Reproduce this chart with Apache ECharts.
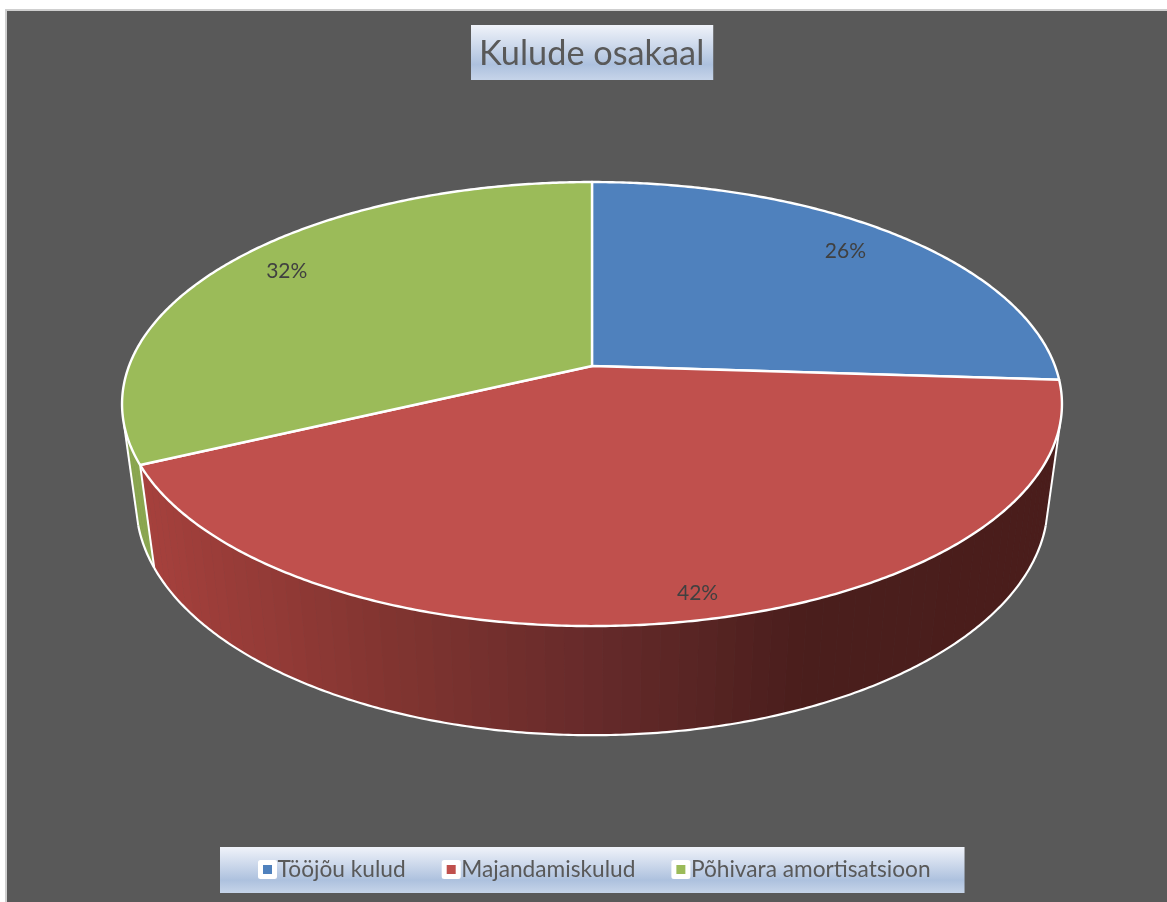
<!DOCTYPE html>
<html><head><meta charset="utf-8">
<style>html,body{margin:0;padding:0;background:#fff}#c{width:1167px;height:902px}</style>
<script src="https://cdn.jsdelivr.net/npm/echarts@6/dist/echarts.min.js"></script>
</head><body><div id="c"></div>
<script>
const titleText = 'Kulude osakaal';
const categories = ['Tööjõu kulud', 'Majandamiskulud', 'Põhivara amortisatsioon'];
const shares = [26, 42, 32];
const sliceColors = ['#4f81bd', '#c0504d', '#9bbb59'];

// perspective view of the disc
const view = {cx: 592, cy: 366, A: 463, B: 215.5, p: 0.1714, q: 0.03, h: 101.5, sideFrom: 105, sideTo: 255};
const labelRadius = [0.84, 0.914, 0.857];
const labelTurn = [-1, -1.4, 1.3];
const total = shares.reduce((a, b) => a + b, 0);

function topPt(deg, r) {
  const t = deg * Math.PI / 180, s = Math.sin(t), c = Math.cos(t), w = 1 + view.p * r * c;
  return [view.cx + view.A * r * s / w, view.cy - view.B * r * c / w];
}
function botPt(deg) {
  const t = deg * Math.PI / 180, s = Math.sin(t), c = Math.cos(t), w = 1 + view.p * c + view.q;
  return [view.cx + view.A * s / w, view.cy + (view.h - view.B * c) / w];
}
const sideStops = [[120, [170, 66, 62]], [400, [128, 52, 48]], [600, [101, 42, 42]], [800, [74, 30, 28]], [1070, [74, 29, 27]]];
function sideColor(x, idx) {
  if (idx === 2) return '#8ba750';
  for (let i = 1; i < sideStops.length; i++) {
    if (x <= sideStops[i][0]) {
      const [x0, c0] = sideStops[i - 1], [x1, c1] = sideStops[i], f = (x - x0) / (x1 - x0);
      return 'rgb(' + c0.map((v, k) => Math.round(v + (c1[k] - v) * f)).join(',') + ')';
    }
  }
  return 'rgb(74,29,27)';
}
const whiteLine = {stroke: '#fff', lineWidth: 2.2, fill: null, lineJoin: 'round'};

function makeRender(idx) {
  return function (params, api) {
    const value = api.value(0);
    const before = shares.slice(0, idx).reduce((a, b) => a + b, 0);
    const a0 = before / total * 360, a1 = (before + value) / total * 360;
    const kids = [];
    // side wall
    const s0 = Math.max(a0, view.sideFrom), s1 = Math.min(a1, view.sideTo);
    if (s1 > s0) {
      const n = Math.max(1, Math.round((s1 - s0) / 2));
      for (let i = 0; i < n; i++) {
        const u = s0 + (s1 - s0) * i / n, v = s0 + (s1 - s0) * (i + 1) / n;
        const pts = [];
        for (let k = 0; k <= 2; k++) pts.push(topPt(u + (v - u) * k / 2, 1));
        for (let k = 2; k >= 0; k--) pts.push(botPt(u + (v - u) * k / 2));
        const col = sideColor((pts[1][0] + pts[4][0]) / 2, idx);
        kids.push({type: 'polygon', shape: {points: pts}, style: {fill: col, stroke: col, lineWidth: 0.6}});
      }
      const edge = [];
      for (let d = s0; d <= s1; d += 0.5) edge.push(botPt(d));
      edge.push(botPt(s1));
      kids.push({type: 'polyline', shape: {points: edge}, style: whiteLine});
      [a0, a1, view.sideFrom, view.sideTo].forEach(d => {
        const isWall = (d >= view.sideFrom && d <= view.sideTo && d === a0) || d === view.sideFrom && s0 === d || d === view.sideTo && s1 === d;
        if (isWall) kids.push({type: 'line', shape: {x1: topPt(d, 1)[0], y1: topPt(d, 1)[1], x2: botPt(d)[0], y2: botPt(d)[1]}, style: {stroke: '#fff', lineWidth: 2}});
      });
    }
    // top face
    const face = [topPt(0, 0)];
    for (let d = a0; d < a1; d += 0.5) face.push(topPt(d, 1));
    face.push(topPt(a1, 1));
    kids.push({type: 'polygon', shape: {points: face}, style: {fill: sliceColors[idx], stroke: '#fff', lineWidth: 2.4, lineJoin: 'round'}});
    // label
    const lp = topPt((a0 + a1) / 2 + labelTurn[idx], labelRadius[idx]);
    kids.push({type: 'text', x: lp[0], y: lp[1], style: {text: value + '%', align: 'center', verticalAlign: 'middle', fill: '#404040', font: '21px Lato, "Noto Sans", sans-serif'}, z2: 10});
    return {type: 'group', children: kids};
  };
}
const boxFill = {type: 'linear', x: 0, y: 0, x2: 0, y2: 1, colorStops: [
  {offset: 0, color: '#f0f3fa'}, {offset: 0.72, color: '#adc1de'}, {offset: 1, color: '#c6d4e9'}]};

const chart = echarts.init(document.getElementById('c'), null, {renderer: 'canvas', width: 1167, height: 902});
chart.setOption({
  animation: false,
  backgroundColor: '#ffffff',
  graphic: [{type: 'rect', z: -10, silent: true, shape: {x: 6, y: 10, width: 1170, height: 900},
    style: {fill: '#595959', stroke: '#cfcfcf', lineWidth: 2}}],
  title: {text: titleText, left: 471, top: 25, padding: [10, 9, 8, 8], backgroundColor: boxFill,
    textStyle: {fontFamily: 'Lato, "Noto Sans", sans-serif', fontSize: 34.3, fontWeight: 'normal', color: '#595959', lineHeight: 37}},
  legend: {
    left: 220, top: 847, padding: [11, 34, 12, 38], itemGap: 36, itemWidth: 14, itemHeight: 14, selectedMode: false,
    backgroundColor: boxFill, icon: 'rect',
    textStyle: {fontFamily: 'Lato, "Noto Sans", sans-serif', fontSize: 22.7, color: '#595959', padding: [0, 0, 0, -2]},
    data: categories.map((name, i) => ({name, icon: 'rect', itemStyle: {color: sliceColors[i], borderColor: '#ffffff', borderWidth: 5, borderJoin: 'round'}}))
  },
  series: categories.map((name, i) => ({
    type: 'custom', name, coordinateSystem: 'none', silent: true, clip: false,
    itemStyle: {color: sliceColors[i]},
    renderItem: makeRender(i),
    data: [[shares[i]]]
  }))
});
</script></body></html>
